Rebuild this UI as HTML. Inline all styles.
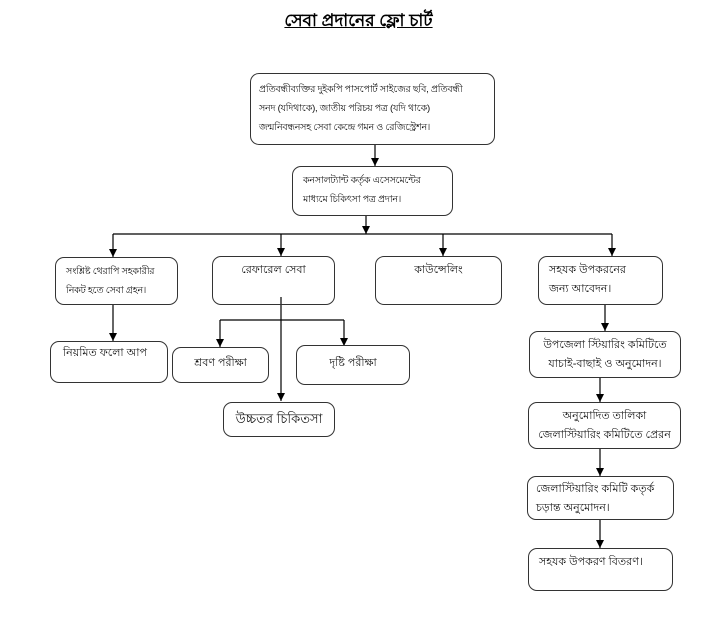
<!DOCTYPE html>
<html><head><meta charset="utf-8"><style>
body{margin:0;width:717px;height:634px;background:#fff;position:relative;overflow:hidden;font-family:"Liberation Sans","Noto Sans CJK SC",sans-serif;}
.b{position:absolute;border:1.5px solid #333;border-radius:9px;box-sizing:border-box;font-size:11px;line-height:19px;color:#111;padding:4px 8px;white-space:nowrap;overflow:hidden;}
.s{font-size:9.6px;letter-spacing:-0.3px;}
.t{position:absolute;left:0;width:717px;top:8px;text-align:center;font-size:17px;font-weight:bold;}
.t span{text-decoration:underline;}
svg{position:absolute;left:0;top:0;}
</style></head><body>
<div class="t"><span>সেবা প্রদানের ফ্লো চার্ট</span></div>
<svg width="717" height="634">
<defs><marker id="m" markerWidth="8" markerHeight="8" refX="4" refY="8" orient="0" markerUnits="userSpaceOnUse"><path d="M0,0 L8,0 L4,8 z" fill="#000"/></marker></defs>
<g stroke="#000" stroke-width="1.2" fill="none">
<line x1="375" y1="145" x2="375" y2="166" marker-end="url(#m)"/>
<line x1="366" y1="216" x2="366" y2="234" marker-end="url(#m)"/>
<line x1="113" y1="234" x2="612" y2="234"/>
<line x1="113" y1="234" x2="113" y2="257" marker-end="url(#m)"/>
<line x1="281" y1="234" x2="281" y2="256" marker-end="url(#m)"/>
<line x1="443" y1="234" x2="443" y2="256" marker-end="url(#m)"/>
<line x1="612" y1="234" x2="612" y2="256" marker-end="url(#m)"/>
<line x1="113" y1="305" x2="113" y2="341" marker-end="url(#m)"/>
<line x1="281" y1="297" x2="281" y2="401" marker-end="url(#m)"/>
<line x1="220" y1="320" x2="344" y2="320"/>
<line x1="220" y1="320" x2="220" y2="347" marker-end="url(#m)"/>
<line x1="344" y1="320" x2="344" y2="346" marker-end="url(#m)"/>
<line x1="605" y1="305" x2="605" y2="331" marker-end="url(#m)"/>
<line x1="600" y1="378" x2="600" y2="402" marker-end="url(#m)"/>
<line x1="600" y1="449" x2="600" y2="476" marker-end="url(#m)"/>
<line x1="600" y1="520" x2="600" y2="548" marker-end="url(#m)"/>
</g></svg>
<div class="b s" style="left:250px;top:73px;width:245px;height:72px;padding:6px 8px;">প্রতিবন্ধীব্যক্তির দুইকপি পাসপোর্ট সাইজের ছবি, প্রতিবন্ধী<br>সনদ (যদিথাকে), জাতীয় পরিচয় পত্র (যদি থাকে)<br>জন্মনিবন্ধনসহ সেবা কেন্দ্রে গমন ও রেজিস্ট্রেশন।</div>
<div class="b s" style="left:292px;top:166px;width:161px;height:50px;padding:4px 10px;">কনসালট্যান্ট কর্তৃক এসেসমেন্টের<br>মাধ্যমে চিকিৎসা পত্র প্রদান।</div>
<div class="b s" style="left:55px;top:257px;width:123px;height:48px;padding:4px 10px;">সংশ্লিষ্ট থেরাপি সহকারীর<br>নিকট হতে সেবা গ্রহন।</div>
<div class="b" style="left:212px;top:256px;width:123px;height:49px;text-align:center;">রেফারেল সেবা</div>
<div class="b" style="left:375px;top:256px;width:127px;height:49px;text-align:center;">কাউন্সেলিং</div>
<div class="b" style="left:538px;top:256px;width:125px;height:49px;padding:4px 10px;">সহযক উপকরনের<br>জন্য আবেদন।</div>
<div class="b" style="left:50px;top:341px;width:118px;height:42px;padding:2px 12px;">নিয়মিত ফলো আপ</div>
<div class="b" style="left:172px;top:347px;width:97px;height:36px;text-align:center;padding:6px 4px;">শ্রবণ পরীক্ষা</div>
<div class="b" style="left:296px;top:345px;width:114px;height:40px;text-align:center;padding:8px 4px;">দৃষ্টি পরীক্ষা</div>
<div class="b" style="left:223px;top:402px;width:112px;height:35px;text-align:center;padding:6px 4px;font-size:13px;">উচ্চতর চিকিতসা</div>
<div class="b" style="left:529px;top:331px;width:152px;height:47px;text-align:center;padding:4px 4px;">উপজেলা স্টিয়ারিং কমিটিতে<br>যাচাই-বাছাই ও অনুমোদন।</div>
<div class="b" style="left:528px;top:402px;width:153px;height:47px;text-align:center;padding:4px 2px;">অনুমোদিত তালিকা<br>জেলাস্টিয়ারিং কমিটিতে প্রেরন</div>
<div class="b" style="left:527px;top:476px;width:147px;height:44px;padding:3px 8px;">জেলাস্টিয়ারিং কমিটি কতৃর্ক<br>চড়ান্ত অনুমোদন।</div>
<div class="b" style="left:528px;top:548px;width:145px;height:43px;padding:4px 10px;">সহযক উপকরণ বিতরণ।</div>
</body></html>
